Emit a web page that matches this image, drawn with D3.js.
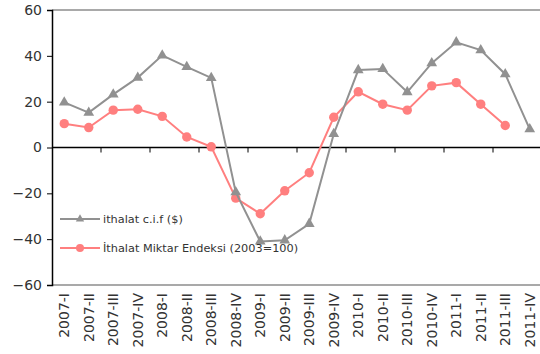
<!DOCTYPE html>
<html>
<head>
<meta charset="utf-8">
<script src="https://cdn.jsdelivr.net/npm/d3@7"></script>
<style>
  html, body { margin: 0; padding: 0; background: #fff; }
  svg { display: block; }
  text { font-family: "DejaVu Sans", sans-serif; fill: #333; }
</style>
</head>
<body>
<svg id="chart" width="540" height="354"></svg>
<script>
// Quarterly periods
const categories = [
  "2007-I","2007-II","2007-III","2007-IV",
  "2008-I","2008-II","2008-III","2008-IV",
  "2009-I","2009-II","2009-III","2009-IV",
  "2010-I","2010-II","2010-III","2010-IV",
  "2011-I","2011-II","2011-III","2011-IV"
];
// İthalat c.i.f ($), annual % change
const cifValues = [19.7, 15.2, 23.2, 30.5, 40.2, 35.2, 30.4, -19.5,
                   -41.0, -40.5, -33.3, 5.9, 33.8, 34.3, 24.2, 36.8,
                   45.9, 42.5, 32.0, 8.0];
// İthalat Miktar Endeksi (2003=100), annual % change
const volumeValues = [10.4, 8.7, 16.3, 16.7, 13.6, 4.6, 0.3, -22.1,
                      -28.9, -18.9, -11.0, 13.2, 24.3, 18.9, 16.3, 26.9,
                      28.3, 18.9, 9.6, null];
const yTicks = [-60, -40, -20, 0, 20, 40, 60];
const seriesNames = ["ithalat c.i.f ($)", "İthalat Miktar Endeksi (2003=100)"];
const colors = ["#919191", "#ff7f7f"];

const svg = d3.select("#chart");
const plotLeft = 52, plotRight = 542, plotTop = 10, plotBottom = 285;

const x = d3.scaleBand().domain(categories).range([plotLeft, plotRight]).padding(0);
const y = d3.scaleLinear().domain([-60, 60]).range([plotBottom, plotTop]);

// plot area border (top and bottom)
svg.append("line").attr("x1", plotLeft).attr("x2", 540).attr("y1", plotTop).attr("y2", plotTop)
  .attr("stroke", "#8c8c8c").attr("stroke-width", 1.5);
svg.append("line").attr("x1", plotLeft).attr("x2", 540).attr("y1", plotBottom).attr("y2", plotBottom)
  .attr("stroke", "#8c8c8c").attr("stroke-width", 1.5);

// y axis
const yAxis = d3.axisLeft(y).tickValues(yTicks).tickSize(5).tickPadding(5);
const gy = svg.append("g").attr("transform", `translate(${plotLeft},0)`).call(yAxis);
gy.select(".domain").attr("stroke", "#000").attr("stroke-width", 1.5);
gy.selectAll(".tick line").attr("stroke", "#000");
gy.selectAll(".tick text").style("font-size", "14px").attr("fill", "#333");

// zero line with ticks at every second band boundary
svg.append("line").attr("x1", plotLeft).attr("x2", 540).attr("y1", y(0)).attr("y2", y(0))
  .attr("stroke", "#000").attr("stroke-width", 1.3);
const boundaries = d3.range(2, categories.length, 2).map(i => x(categories[i]));
svg.selectAll(".xt").data(boundaries).enter().append("line")
  .attr("x1", d => d).attr("x2", d => d)
  .attr("y1", y(0)).attr("y2", y(0) + 5)
  .attr("stroke", "#000").attr("stroke-width", 1);

// category labels, rotated
svg.selectAll(".xl").data(categories).enter().append("text")
  .attr("transform", d => `translate(${x(d) + x.bandwidth() / 2 + 5},${plotBottom + 8}) rotate(-90)`)
  .attr("text-anchor", "end")
  .style("font-size", "14px")
  .text(d => d);

const cx = d => x(d) + x.bandwidth() / 2;
const line = d3.line()
  .defined(d => d.v !== null)
  .x(d => cx(d.c)).y(d => y(d.v));

const cifData = categories.map((c, i) => ({ c, v: cifValues[i] }));
const volData = categories.map((c, i) => ({ c, v: volumeValues[i] }));

const tri = d3.symbol().type(d3.symbolTriangle).size(50);

// volume index series
svg.append("path").datum(volData).attr("d", line)
  .attr("fill", "none").attr("stroke", colors[1]).attr("stroke-width", 2);
svg.selectAll(".vm").data(volData.filter(d => d.v !== null)).enter().append("circle")
  .attr("cx", d => cx(d.c)).attr("cy", d => y(d.v)).attr("r", 4.7)
  .attr("fill", colors[1]);

// c.i.f series
svg.append("path").datum(cifData).attr("d", line)
  .attr("fill", "none").attr("stroke", colors[0]).attr("stroke-width", 2);
svg.selectAll(".cm").data(cifData).enter().append("path")
  .attr("d", tri)
  .attr("transform", d => `translate(${cx(d.c)},${y(d.v)})`)
  .attr("fill", colors[0]);

// legend
const legendY = [219, 248];
seriesNames.forEach((name, i) => {
  const g = svg.append("g").attr("transform", `translate(60,${legendY[i]})`);
  g.append("line").attr("x1", 0).attr("x2", 40).attr("y1", 0).attr("y2", 0)
    .attr("stroke", colors[i]).attr("stroke-width", 2);
  if (i === 0) {
    g.append("path").attr("d", d3.symbol().type(d3.symbolTriangle).size(30))
      .attr("transform", "translate(20,0)").attr("fill", colors[i]);
  } else {
    g.append("circle").attr("cx", 20).attr("cy", 0).attr("r", 4).attr("fill", colors[i]);
  }
  g.append("text").attr("x", 43).attr("y", 4)
    .style("font-size", "11.3px").text(name);
});
</script>
</body>
</html>
